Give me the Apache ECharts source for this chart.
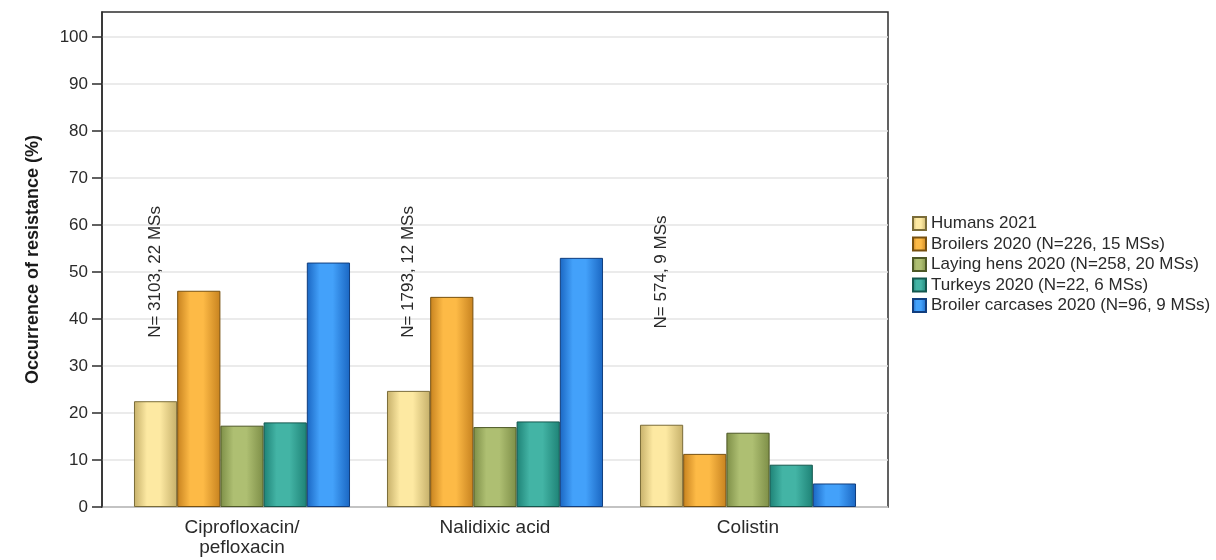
<!DOCTYPE html>
<html>
<head>
<meta charset="utf-8">
<script src="https://cdn.jsdelivr.net/npm/echarts@6/dist/echarts.min.js"></script>
<style>
html,body{margin:0;padding:0;background:#fff;}
#chart{width:1216px;height:560px;}
</style>
</head>
<body>
<div id="chart"></div>
<script>
const categories = ['Ciprofloxacin/\npefloxacin', 'Nalidixic acid', 'Colistin'];
const seriesNames = ['Humans 2021', 'Broilers 2020 (N=226, 15 MSs)', 'Laying hens 2020 (N=258, 20 MSs)', 'Turkeys 2020 (N=22, 6 MSs)', 'Broiler carcases 2020 (N=96, 9 MSs)'];
const humans = [22.5, 24.7, 17.5];
const broilers = [46.0, 44.7, 11.3];
const layingHens = [17.3, 17.0, 15.8];
const turkeys = [18.0, 18.2, 9.0];
const carcases = [52.0, 53.0, 5.0];
const annotTexts = ['N= 3103, 22 MSs', 'N= 1793, 12 MSs', 'N= 574, 9 MSs'];
const annotY = [50, 50, 50];
const yTicks = [0, 10, 20, 30, 40, 50, 60, 70, 80, 90, 100];

const palette = [
  {edge: '#c6b06a', light: '#fde9a2', border: '#7a6c38'},
  {edge: '#c7821f', light: '#fdba46', border: '#77500f'},
  {edge: '#7d8e47', light: '#aebf72', border: '#4d5826'},
  {edge: '#1e8276', light: '#43b4a5', border: '#14574e'},
  {edge: '#1a66c2', light: '#43a1fa', border: '#113e7e'}
];
const values = [humans, broilers, layingHens, turkeys, carcases];
const GAP = 0.146;

function grad(p) {
  return new echarts.graphic.LinearGradient(0, 0, 1, 0, [
    {offset: 0, color: p.edge},
    {offset: 0.3, color: p.light},
    {offset: 0.6, color: p.light},
    {offset: 1, color: p.edge}
  ]);
}

const chart = echarts.init(document.getElementById('chart'), null, {renderer: 'canvas'});
const YMAX = 105.3;

const barSeries = values.map((v, i) => ({
  name: seriesNames[i],
  type: 'bar',
  xAxisIndex: 1,
  yAxisIndex: 1,
  data: v,
  barGap: '0%',
  barCategoryGap: (GAP * 100) + '%',
  itemStyle: {color: grad(palette[i]), borderColor: palette[i].border, borderWidth: 1},
  emphasis: {disabled: true},
  animation: false
}));

const option = {
  animation: false,
  backgroundColor: '#ffffff',
  textStyle: {fontFamily: 'Liberation Sans, Arial, sans-serif'},
  legend: {
    orient: 'vertical',
    left: 907,
    top: 210,
    itemWidth: 13,
    itemHeight: 13,
    itemGap: 3.5,
    icon: 'rect',
    data: seriesNames,
    textStyle: {fontSize: 17, color: '#2a2a2a', fontFamily: 'Liberation Sans, Arial, sans-serif'},
    selectedMode: false
  },
  grid: [
    {left: 102, top: 12, width: 786, height: 495, show: true, borderColor: '#2e2e2e', borderWidth: 1.5, containLabel: false},
    {left: 115.5, top: 12, width: 759, height: 495, show: false, containLabel: false}
  ],
  xAxis: [
    {type: 'category', gridIndex: 0, data: categories, show: false},
    {
      type: 'category', gridIndex: 1, data: categories,
      axisLine: {show: false}, axisTick: {show: false},
      axisLabel: {fontSize: 19, color: '#2a2a2a', margin: 11, lineHeight: 20, interval: 0}
    }
  ],
  yAxis: [
    {
      type: 'value', gridIndex: 0, min: 0, max: YMAX,
      name: 'Occurrence of resistance (%)', nameLocation: 'middle', nameGap: 60,
      nameTextStyle: {fontSize: 18, fontWeight: 'bold', color: '#1a1a1a'},
      axisLine: {show: true, lineStyle: {color: '#2e2e2e', width: 1.5}},
      axisTick: {show: true, inside: false, length: 10, customValues: yTicks, lineStyle: {color: '#2e2e2e', width: 1.5}},
      axisLabel: {fontSize: 17, color: '#2a2a2a', margin: 14, customValues: yTicks},
      splitLine: {show: true, lineStyle: {color: '#e4e4e4', width: 1.5}}
    },
    {type: 'value', gridIndex: 1, min: 0, max: YMAX, show: false, splitLine: {show: false}}
  ],
  series: barSeries.concat([{
    type: 'custom',
    xAxisIndex: 1,
    yAxisIndex: 1,
    silent: true,
    data: categories.map((c, i) => [i, annotY[i]]),
    renderItem: function (params, api) {
      const p = api.coord([api.value(0), api.value(1)]);
      const band = api.size([1, 0])[0];
      const barW = band * (1 - GAP) / 5;
      return {
        type: 'text',
        x: p[0] - 2 * barW,
        y: p[1],
        rotation: Math.PI / 2,
        style: {
          text: annotTexts[params.dataIndex],
          fontSize: 17,
          fill: '#2a2a2a',
          align: 'center',
          verticalAlign: 'middle',
          fontFamily: 'Liberation Sans, Arial, sans-serif'
        }
      };
    }
  }])
};
chart.setOption(option);
</script>
</body>
</html>
